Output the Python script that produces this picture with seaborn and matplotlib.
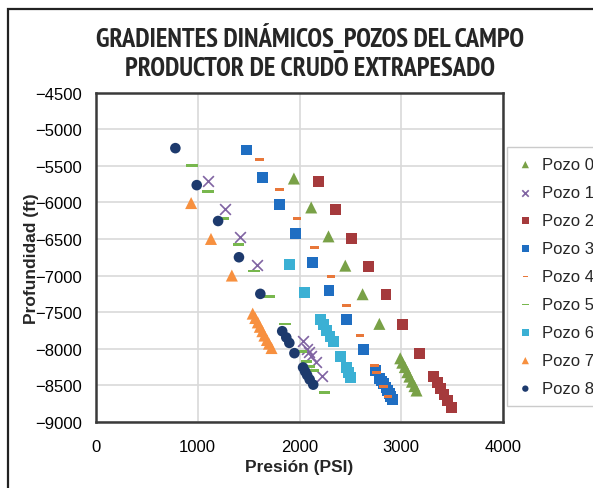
import matplotlib
matplotlib.use("Agg")
import matplotlib.pyplot as plt
from matplotlib import font_manager
import seaborn as sns
import pandas as pd
from matplotlib.patches import Rectangle

# Pressure (psi) / depth (ft) survey points per well
pozo0_p = [1945, 2115, 2285, 2450, 2620, 2785, 2990, 3010, 3035, 3060, 3080, 3105, 3130, 3150]
pozo0_d = [-5675, -6070, -6465, -6865, -7255, -7660, -8130, -8190, -8250, -8320, -8380, -8450, -8510, -8570]

pozo1_p = [1105, 1265, 1420, 1580, 2030, 2070, 2090, 2110, 2160, 2225]
pozo1_d = [-5710, -6090, -6475, -6855, -7900, -8000, -8050, -8100, -8180, -8375]

pozo2_p = [2185, 2350, 2515, 2680, 2850, 3010, 3180, 3315, 3355, 3390, 3420, 3455, 3490]
pozo2_d = [-5715, -6100, -6490, -6880, -7265, -7670, -8065, -8375, -8460, -8540, -8630, -8710, -8800]

pozo3_p = [1480, 1635, 1800, 1960, 2125, 2290, 2465, 2630, 2750, 2790, 2810, 2830, 2850, 2865, 2880, 2895, 2910]
pozo3_d = [-5285, -5660, -6035, -6420, -6820, -7205, -7605, -8005, -8300, -8400, -8440, -8480, -8530, -8570, -8610, -8650, -8690]

pozo4_p = [1610, 1805, 1975, 2145, 2310, 2460, 2595, 2735, 2760, 2825, 2870]
pozo4_d = [-5420, -5825, -6220, -6620, -7015, -7410, -7815, -8225, -8320, -8520, -8650]

pozo5_p = [945, 1100, 1250, 1400, 1550, 1700, 1860, 2020, 2070, 2100, 2135, 2245]
pozo5_d = [-5500, -5855, -6220, -6575, -6935, -7285, -7660, -8040, -8175, -8245, -8300, -8600]

pozo6_p = [1900, 2050, 2205, 2235, 2265, 2300, 2335, 2405, 2460, 2480, 2500]
pozo6_d = [-6855, -7230, -7595, -7670, -7745, -7830, -7905, -8105, -8250, -8320, -8390]

pozo7_p = [935, 1130, 1335, 1540, 1565, 1590, 1610, 1635, 1655, 1680, 1700, 1725]
pozo7_d = [-6010, -6500, -7000, -7520, -7580, -7640, -7700, -7760, -7820, -7880, -7930, -7990]

pozo8_p = [780, 990, 1200, 1405, 1615, 1830, 1870, 1900, 1950, 2035, 2055, 2075, 2100, 2135]
pozo8_d = [-5260, -5765, -6255, -6750, -7250, -7760, -7845, -7920, -8060, -8255, -8310, -8360, -8420, -8490]

labels = ["Pozo 0", "Pozo 1", "Pozo 2", "Pozo 3", "Pozo 4", "Pozo 5", "Pozo 6", "Pozo 7", "Pozo 8"]
x_ticks = [0, 1000, 2000, 3000, 4000]
y_ticks = [-4500, -5000, -5500, -6000, -6500, -7000, -7500, -8000, -8500, -9000]

series = [
    (pozo0_p, pozo0_d), (pozo1_p, pozo1_d), (pozo2_p, pozo2_d),
    (pozo3_p, pozo3_d), (pozo4_p, pozo4_d), (pozo5_p, pozo5_d),
    (pozo6_p, pozo6_d), (pozo7_p, pozo7_d), (pozo8_p, pozo8_d),
]

frames = []
for lab, (p, d) in zip(labels, series):
    frames.append(pd.DataFrame({"Presion": p, "Profundidad": d, "Pozo": lab}))
df = pd.concat(frames, ignore_index=True)

small_dash = [(-1, -0.32), (1, -0.32), (1, 0.32), (-1, 0.32)]
long_dash = [(-1, -0.22), (1, -0.22), (1, 0.22), (-1, 0.22)]

styles = {
    "Pozo 0": dict(marker="^", color="#79A147", s=75),
    "Pozo 1": dict(marker="x", color="#8064A2", s=60, linewidths=1.2),
    "Pozo 2": dict(marker="s", color="#A53A3C", s=62),
    "Pozo 3": dict(marker="s", color="#1F6EC2", s=62),
    "Pozo 4": dict(marker=small_dash, color="#E8773A", s=40),
    "Pozo 5": dict(marker=long_dash, color="#78B74E", s=70),
    "Pozo 6": dict(marker="s", color="#3BB0D4", s=62),
    "Pozo 7": dict(marker="^", color="#F7903F", s=75),
    "Pozo 8": dict(marker="o", color="#1D3A6D", s=58),
}

sns.set_style("white")
plt.rcParams["font.family"] = ["Liberation Sans", "DejaVu Sans"]


def pick_heading_font():
    """Return (FontProperties, size) for a narrow bold upright face."""
    fonts = [f for f in font_manager.fontManager.ttflist
             if f.style == "normal" and f.weight in ("bold", 700)]

    def narrow_rank(f):
        nm = f.name.lower()
        st = str(f.stretch).lower()
        if "narrow" in nm:
            return 0
        if "extra-condensed" in st or "extracondensed" in nm or st == "200":
            return 1
        if st in ("condensed", "300") or "condensed" in nm:
            return 2
        return None

    ranked = [(narrow_rank(f), f) for f in fonts if narrow_rank(f) is not None]
    if ranked:
        ranked.sort(key=lambda t: t[0])
        rank, f = ranked[0]
        size = {0: 19.2, 1: 19.2, 2: 14.2}[rank]
        return font_manager.FontProperties(fname=f.fname), size
    return font_manager.FontProperties(family="Liberation Sans", weight="bold"), 14.5


title_font, title_size = pick_heading_font()

fig = plt.figure(figsize=(5.93, 4.89), dpi=100)
ax = fig.add_axes([96 / 593, 1 - 423 / 489, (503 - 96) / 593, (423 - 93.5) / 489])

for lab in labels:
    sub = df[df["Pozo"] == lab]
    st = dict(styles[lab])
    sns.scatterplot(data=sub, x="Presion", y="Profundidad", ax=ax, label=lab,
                    edgecolor="none" if st["marker"] != "x" else None, **st)

ax.set_xlim(0, 4000)
ax.set_ylim(-9000, -4500)
ax.set_xticks(x_ticks)
ax.set_yticks(y_ticks)
ax.tick_params(axis="both", labelsize=12, length=4, width=1, colors="#333333",
               labelcolor="black", direction="out")
ax.tick_params(axis="x", pad=8)
ax.tick_params(axis="y", pad=6)
ax.grid(True, color="#D9D9D9", linewidth=1.2)
ax.set_axisbelow(True)
for side in ["left", "bottom", "right", "top"]:
    ax.spines[side].set_color("#3A3A3A")
    ax.spines[side].set_linewidth(1.8)

ax.set_xlabel("Presión (PSI)", fontsize=12.5, fontweight="bold", labelpad=4)
ax.set_ylabel("Profundidad (ft)", fontsize=12.5, fontweight="bold", labelpad=-3)

handles, hlabels = ax.get_legend_handles_labels()
ax.legend_.remove()
leg = fig.legend(handles, hlabels, loc="upper left",
                 bbox_to_anchor=(507 / 593, 1 - 148 / 489),
                 fontsize=12, frameon=True, fancybox=False, edgecolor="#BFBFBF",
                 markerscale=0.6, handlelength=1.0, handletextpad=0.5,
                 labelspacing=0.78, borderpad=0.6, borderaxespad=0)
leg.get_frame().set_linewidth(1.0)

fp = title_font.copy()
fp.set_size(title_size)
fig.text(0.523, 1 - 47 / 489, "GRADIENTES DINÁMICOS_POZOS DEL CAMPO",
         ha="center", va="baseline", fontproperties=fp)
fig.text(0.523, 1 - 76 / 489, "PRODUCTOR DE CRUDO EXTRAPESADO",
         ha="center", va="baseline", fontproperties=fp)

# outer chart frame
fig.patches.append(Rectangle((8 / 593, -0.2), 1.2, 1.2 - 10 / 489, transform=fig.transFigure,
                             fill=False, edgecolor="#222222", linewidth=1.6))

fig.savefig("out.png", dpi=100)
